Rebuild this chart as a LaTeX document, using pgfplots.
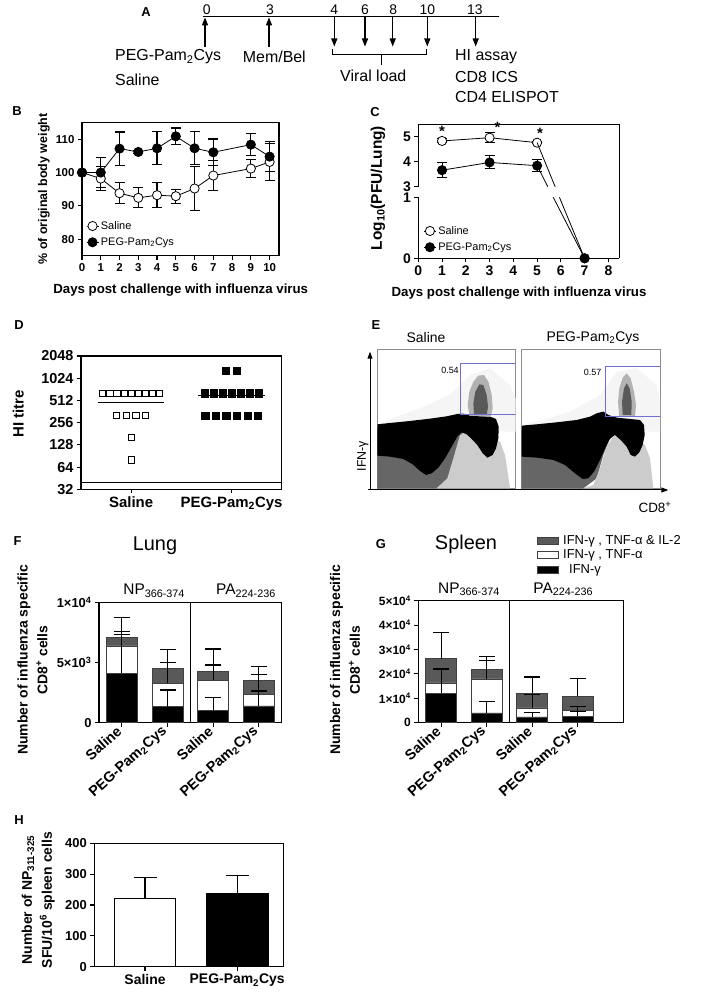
\documentclass[border=0pt]{standalone}
\usepackage{fontspec}
\setmainfont{Liberation Sans}
\usepackage{pgfplots}
\pgfplotsset{compat=1.18}
\usetikzlibrary{arrows.meta}
\newcommand{\fs}[1]{\fontsize{#1}{#1}\selectfont}
\newcommand{\peg}{PEG-Pam\textsubscript{2}Cys}
\definecolor{gate}{RGB}{110,110,212}
\pgfkeys{/pgf/number format/assume math mode=true}
\pgfplotsset{
  every axis/.append style={scale only axis, anchor=south west, axis line style={line width=1.1bp}, tick style={line width=1.1bp, black}, major tick length=4bp, tick align=outside, tick pos=left, scaled ticks=false},
  errb/.style={error bars/y dir=both, error bars/y explicit, error bars/error bar style={line width=1.1bp, solid, black}, error bars/error mark options={rotate=90, mark size=5bp, line width=1.1bp, black}},
  cst/.style={black, line width=0.8bp, mark=*, mark size=4.6bp, mark options={line width=1.1bp, solid}},
  bseg/.style={ybar, bar width=31bp, bar shift=0pt, draw=black!75, line width=0.6bp, forget plot, error bars/y dir=plus, error bars/y explicit, error bars/error bar style={line width=1.1bp, black}, error bars/error mark options={rotate=90, mark size=8bp, line width=1.1bp, black}},
  flow/.style={xtick=\empty, ytick=\empty, y dir=reverse, ymin=12, ymax=430, axis line style={black!45, line width=0.7bp}, clip=true},
  lgimg/.style={legend image code/.code={\draw[mark repeat=2,mark phase=2,##1] plot coordinates {(0bp,0bp) (6bp,0bp) (12bp,0bp)};}},
}
\begin{document}
\begin{tikzpicture}
\path[use as bounding box] (0,0) rectangle (708bp,994bp);

% ================= A : timeline =================
\begin{scope}[x=1bp,y=1bp]
\node[font=\bfseries\fs{13}] at (146,982.3) {A};
\draw[line width=1.5bp] (203.3,977.3) -- (499.3,977.3);
\foreach \xx/\lab in {206.7/0,270/3,334.3/4,365/6,393.3/8,427.3/10,475/13}
  \node[font=\fs{14}] at (\xx,984) {\lab};
\foreach \xx in {205,269}
  \draw[line width=1.3bp,-{Triangle[length=8bp,width=6bp]}] (\xx,947.3) -- (\xx,976.6);
\foreach \xx in {334.3,365,392.7,427.3,475.7}
  \draw[line width=1.3bp,-{Triangle[length=8bp,width=6bp]}] (\xx,976.6) -- (\xx,947.5);
\draw[line width=0.9bp] (332.3,944.7) -- (332.3,940) -- (426.7,940) -- (426.7,944.7);
\draw[line width=0.9bp] (381.7,940) -- (381.7,929);
\node[font=\fs{16}, anchor=west, inner sep=0] at (115,937) {\peg};
\node[font=\fs{16}, anchor=west, inner sep=0] at (115,914) {Saline};
\node[font=\fs{16}, anchor=west, inner sep=0] at (242.7,937) {Mem/Bel};
\node[font=\fs{16}] at (373.3,918) {Viral load};
\node[font=\fs{16}, anchor=west, inner sep=0] at (455,937) {HI assay};
\node[font=\fs{16}, anchor=west, inner sep=0] at (455,916.7) {CD8 ICS};
\node[font=\fs{16}, anchor=west, inner sep=0] at (455,896.7) {CD4 ELISPOT};

% panel letters and labels
\node[font=\bfseries\fs{13}] at (17,883) {B};
\node[font=\bfseries\fs{13}] at (375,882) {C};
\node[font=\bfseries\fs{13}] at (19,669) {D};
\node[font=\bfseries\fs{13}] at (376,669) {E};
\node[font=\bfseries\fs{13}] at (17.5,453) {F};
\node[font=\bfseries\fs{13}] at (381,450) {G};
\node[font=\bfseries\fs{13}] at (19,174) {H};

\node[font=\bfseries\fs{12.5}, rotate=90] at (44,805) {\% of original body weight};
\node[font=\bfseries\fs{13.3}] at (180.7,704) {Days post challenge with influenza virus};
\node[font=\bfseries\fs{15.5}, rotate=90] at (378,806) {Log\textsubscript{10}(PFU/Lung)};
\node[font=\bfseries\fs{13.3}] at (519,701.3) {Days post challenge with influenza virus};
\node[font=\bfseries\fs{15}, rotate=90] at (18.3,580) {HI titre};

\node[font=\fs{14}] at (426,656) {Saline};
\node[font=\fs{14}] at (593,656) {\peg};
\node[font=\fs{12.5}, rotate=90] at (363,538) {IFN-γ};
\node[font=\fs{13.5}] at (655,487) {CD8\textsuperscript{+}};
\draw[line width=1bp,-{Triangle[length=7bp,width=5bp]}] (370,504) -- (370,642.3);
\draw[line width=1bp,-{Triangle[length=7bp,width=5bp]}] (368.3,504) -- (668.3,504);

\node[font=\fs{20}, anchor=base] at (155,443.3) {Lung};
\node[font=\fs{15.5}, anchor=base] at (154.2,399) {NP\textsubscript{366-374}};
\node[font=\fs{15.5}, anchor=base] at (246,399) {PA\textsubscript{224-236}};
\node[font=\bfseries\fontsize{14}{20}\selectfont, rotate=90, align=center] at (32.5,334) {Number of influenza specific\\CD8\textsuperscript{+} cells};

\node[font=\fs{20}, anchor=base] at (466,444) {Spleen};
\node[font=\fs{15.5}, anchor=base] at (469,400.7) {NP\textsubscript{366-374}};
\node[font=\fs{15.5}, anchor=base] at (563.3,400.7) {PA\textsubscript{224-236}};
\node[font=\bfseries\fontsize{14}{20}\selectfont, rotate=90, align=center] at (345,334) {Number of influenza specific\\CD8\textsuperscript{+} cells};

\node[font=\bfseries\fontsize{14}{20}\selectfont, rotate=90, align=center] at (38.3,94) {Number of NP\textsubscript{311-325}\\SFU/10\textsuperscript{6} spleen cells};
\end{scope}

% ================= B =================
\begin{axis}[at={(82bp,738.3bp)}, width=197bp, height=133bp,
  xmin=0, xmax=10.5, ymin=75, ymax=115, xtick={0,1,...,10}, ytick={80,90,100,110},
  tick label style={font=\bfseries\fs{11.5}}, lgimg,
  legend style={at={(0.02,0.05)}, anchor=south west, draw=none, fill=none, font=\fs{11}, inner sep=0pt, row sep=3bp, legend cell align=left}]
\addplot[cst, mark options={fill=white}, errb] coordinates {
 (0,100) +- (0,0) (1,98.2) +- (0,3.5) (2,93.8) +- (0,3.2) (3,92.4) +- (0,3)
 (4,93.2) +- (0,3.8) (5,92.9) +- (0,2.1) (6,95.2) +- (0,6.7) (7,99.1) +- (0,4.5)
 (9,101.2) +- (0,2.6) (10,103.2) +- (0,5.5)};
\addplot[cst, mark options={fill=black}, errb] coordinates {
 (0,100) +- (0,0) (1,100) +- (0,4.4) (2,107.2) +- (0,5) (3,106.2) +- (0,0.5)
 (4,107.3) +- (0,5) (5,110.9) +- (0,2.5) (6,107.3) +- (0,5) (7,106.1) +- (0,4)
 (9,108.4) +- (0,3.3) (10,104.8) +- (0,4.5)};
\legend{Saline, \peg}
\end{axis}

% ================= C (broken axis) =================
\begin{axis}[at={(418.3bp,735.7bp)}, width=201bp, height=134.1bp,
  xmin=0, xmax=1, ymin=0, ymax=1, hide x axis, axis y line*=right, ytick=\empty]
\end{axis}
\begin{axis}[at={(418.3bp,807.3bp)}, width=201bp, height=62.5bp,
  xmin=0, xmax=8.46, ymin=3, ymax=5.5, axis x line*=top, axis y line*=left,
  xtick=\empty, ytick={3,4,5}, tick align=outside, tick label style={font=\bfseries\fs{14}}, clip mode=individual]
\addplot[cst, mark options={fill=white}, errb] coordinates {
 (1,4.83) +- (0,0.08) (3,4.96) +- (0,0.2) (5,4.76) +- (0,0.05)};
\addplot[black, line width=0.8bp] coordinates {(5,4.76) (5.76,3)};
\addplot[cst, mark options={fill=black}, errb] coordinates {
 (1,3.66) +- (0,0.3) (3,3.97) +- (0,0.26) (5,3.84) +- (0,0.24)};
\addplot[black, line width=0.8bp] coordinates {(5,3.84) (5.45,3)};
\node[font=\bfseries\fs{15}] at (axis cs:1,5.2) {*};
\node[font=\bfseries\fs{15}] at (axis cs:3.33,5.36) {*};
\node[font=\bfseries\fs{15}] at (axis cs:5.12,5.14) {*};
\end{axis}
\begin{axis}[at={(418.3bp,735.7bp)}, width=201bp, height=61bp,
  xmin=0, xmax=8.46, ymin=0, ymax=1, axis x line*=bottom, axis y line*=left,
  xtick={0,1,...,8}, ytick={0,1}, tick align=outside, tick label style={font=\bfseries\fs{14}},
  legend style={at={(0.025,0.07)}, anchor=south west, draw=none, fill=none, font=\fs{11}, inner sep=0pt, row sep=3bp, legend cell align=left}, lgimg]
\addlegendimage{cst, mark options={fill=white}}
\addlegendimage{cst, mark options={fill=black}}
\addplot[black, line width=0.8bp, forget plot] coordinates {(5.94,1) (7,0)};
\addplot[black, line width=0.8bp, forget plot] coordinates {(5.68,1) (7,0)};
\addplot[cst, only marks, mark options={fill=white}, forget plot] coordinates {(7,0)};
\addplot[cst, only marks, mark options={fill=black}, forget plot] coordinates {(7,0)};
\legend{Saline, \peg}
\end{axis}

% ================= D =================
\begin{axis}[at={(81bp,504.7bp)}, width=200.7bp, height=133.3bp,
  xmin=0.5, xmax=2.5, ymode=log, log basis y=2, ymin=32, ymax=2048,
  ytick={32,64,128,256,512,1024,2048}, yticklabels={32,64,128,256,512,1024,2048},
  xtick={1,2}, xticklabels={Saline,\peg},
  yticklabel style={font=\bfseries\fs{14.5}}, xticklabel style={font=\bfseries\fs{15}}]
\addplot[black, line width=1.1bp] coordinates {(0.5,40) (2.5,40)};
\addplot[only marks, mark=square, mark size=3.1bp, mark options={line width=0.9bp, fill=white}] coordinates {
 (0.717,640) (0.788,640) (0.858,640) (0.929,640) (1.0,640) (1.071,640) (1.142,640) (1.212,640) (1.283,640)
 (0.855,320) (0.952,320) (1.048,320) (1.145,320) (1.0,160) (1.0,80)};
\addplot[black, line width=1.1bp] coordinates {(0.67,485) (1.33,485)};
\addplot[only marks, mark=square*, mark size=3.6bp, mark options={line width=0.5bp}] coordinates {
 (1.945,1280) (2.05,1280)
 (1.731,640) (1.821,640) (1.910,640) (2.0,640) (2.090,640) (2.179,640) (2.269,640)
 (1.738,320) (1.843,320) (1.948,320) (2.053,320) (2.158,320) (2.262,320)};
\addplot[black, line width=1.1bp] coordinates {(1.67,597) (2.33,597)};
\end{axis}

% ================= E (flow plots) =================
\begin{axis}[at={(377.3bp,505.7bp)}, width=138.4bp, height=139.3bp, xmin=22, xmax=437, flow]
\addplot[fill=black!4, draw=none] coordinates {(22,240) (80,215) (150,190) (240,150) (300,90) (360,70) (420,120) (437,160) (437,260) (22,260)};
\addplot[fill=black!60, draw=none] coordinates {(22,300) (22,430) (200,430) (235,400) (250,350) (265,290) (280,262) (200,250) (22,250)};
\addplot[fill=black!20, draw=none] coordinates {(200,430) (420,430) (405,330) (390,290) (340,270) (290,262) (270,270) (250,340) (232,400)};
\addplot[fill=black, draw=none] coordinates {(22,238) (60,234) (120,228) (180,221) (230,214) (262,207) (280,206) (300,212) (330,214) (360,215) (378,222) (386,245) (385,280) (378,310) (368,330) (352,338) (338,325) (322,300) (305,282) (290,268) (275,262) (262,275) (245,305) (225,340) (205,368) (185,385) (168,390) (150,378) (128,358) (100,342) (60,335) (22,332)};
\addplot[fill=black!30, draw=none] coordinates {(298,212) (293,180) (298,140) (310,110) (325,92) (342,90) (355,110) (365,150) (368,190) (362,215)};
\addplot[fill=black!65, draw=none] coordinates {(312,208) (310,175) (316,140) (328,118) (340,120) (350,150) (354,185) (350,210)};
\addplot[gate, line width=0.8bp] coordinates {(437,55) (272,55) (272,207) (437,207)};
\node[font=\fs{9}] at (axis cs:240,75) {0.54};
\end{axis}
\begin{axis}[at={(521.7bp,505.7bp)}, width=138.3bp, height=139.3bp, xmin=455, xmax=870, flow]
\addplot[fill=black!4, draw=none] coordinates {(455,240) (520,225) (600,200) (690,150) (740,80) (800,70) (860,120) (870,160) (870,260) (455,260)};
\addplot[fill=black!60, draw=none] coordinates {(455,300) (455,430) (640,430) (680,400) (700,330) (718,285) (735,268) (640,250) (455,250)};
\addplot[fill=black!20, draw=none] coordinates {(640,430) (850,430) (840,340) (825,300) (780,280) (735,268) (712,300) (690,370) (670,420)};
\addplot[fill=black, draw=none] coordinates {(455,242) (500,238) (560,232) (620,225) (660,215) (680,205) (700,200) (715,210) (740,218) (780,222) (810,225) (822,240) (824,270) (818,300) (808,322) (795,335) (782,330) (770,305) (752,285) (735,270) (720,280) (705,310) (690,345) (672,380) (655,400) (638,402) (615,385) (585,360) (550,345) (500,338) (455,335)};
\addplot[fill=black!30, draw=none] coordinates {(748,215) (744,170) (748,130) (758,98) (770,85) (782,100) (792,140) (798,180) (795,215)};
\addplot[fill=black!65, draw=none] coordinates {(758,210) (756,170) (762,130) (770,115) (779,130) (785,170) (784,210)};
\addplot[gate, line width=0.8bp] coordinates {(870,65) (705,65) (705,215) (870,215)};
\node[font=\fs{9}] at (axis cs:668,82) {0.57};
\end{axis}

% ================= F =================
\begin{axis}[at={(99bp,271.3bp)}, width=182.7bp, height=120bp,
  xmin=-0.5, xmax=3.5, ymin=0, ymax=10000,
  ytick={0,5000,10000}, yticklabels={0,5×10\textsuperscript{3},1×10\textsuperscript{4}},
  xtick={0,1,2,3}, xticklabels={Saline,\peg,Saline,\peg},
  yticklabel style={font=\bfseries\fs{13}},
  xticklabel style={font=\bfseries\fs{14.5}, rotate=42, anchor=east}]
\addplot[bseg, fill=black!65] coordinates {(0,7117) +- (0,1633) (1,4533) +- (0,1584) (2,4250) +- (0,1892) (3,3558) +- (0,1109)};
\addplot[bseg, fill=white] coordinates {(0,6392) +- (0,975) (1,3283) +- (0,1717) (2,3558) +- (0,1250) (3,2367) +- (0,1666)};
\addplot[bseg, fill=black] coordinates {(0,4117) +- (0,3466) (1,1333) +- (0,1392) (2,1058) +- (0,1025) (3,1392) +- (0,1250)};
\addplot[black, line width=1.1bp, forget plot] coordinates {(1.5,0) (1.5,10000)};
\end{axis}

% ================= G =================
\begin{axis}[at={(418.3bp,271.3bp)}, width=205bp, height=122bp,
  xmin=-0.5, xmax=4, ymin=0, ymax=50000,
  ytick={0,10000,20000,30000,40000,50000},
  yticklabels={0,1×10\textsuperscript{4},2×10\textsuperscript{4},3×10\textsuperscript{4},4×10\textsuperscript{4},5×10\textsuperscript{4}},
  xtick={0,1,2,3}, xticklabels={Saline,\peg,Saline,\peg},
  yticklabel style={font=\bfseries\fs{12}},
  xticklabel style={font=\bfseries\fs{14.5}, rotate=42, anchor=east},
  legend style={at={(0.578,1.555)}, anchor=north west, draw=none, fill=none, font=\fs{13}, inner sep=0pt, row sep=0bp, column sep=3bp, legend cell align=left}]
\addplot[bseg, fill=black!65] coordinates {(0,26230) +- (0,10820) (1,21720) +- (0,5490) (2,12170) +- (0,6560) (3,10820) +- (0,7380)};
\addplot[bseg, fill=white] coordinates {(0,16270) +- (0,5730) (1,17910) +- (0,7660) (2,6025) +- (0,5455) (3,4920) +- (0,1800)};
\addplot[bseg, fill=black] coordinates {(0,12170) +- (0,9830) (1,3975) +- (0,4795) (2,2340) +- (0,1920) (3,2620) +- (0,2080)};
\addplot[black, line width=1.1bp, forget plot] coordinates {(1.5,0) (1.5,50000)};
\addlegendimage{legend image code/.code={\draw[draw=black!75, fill=black!65, line width=0.6bp] (0bp,-3.5bp) rectangle (20.6bp,3.5bp);}}
\addlegendentry{IFN-γ , TNF-α \& IL-2}
\addlegendimage{legend image code/.code={\draw[draw=black!75, fill=white, line width=0.6bp] (0bp,-3.5bp) rectangle (20.6bp,3.5bp);}}
\addlegendentry{IFN-γ , TNF-α}
\addlegendimage{legend image code/.code={\draw[draw=black!75, fill=black, line width=0.6bp] (0bp,-3.5bp) rectangle (20.6bp,3.5bp);}}
\addlegendentry{\hspace{6bp}IFN-γ}
\end{axis}

% ================= H =================
\begin{axis}[at={(94.3bp,27.3bp)}, width=189bp, height=123.4bp,
  xmin=0.45, xmax=2.5, ymin=0, ymax=400, ytick={0,100,200,300,400},
  xtick={1,2}, xticklabels={Saline,\peg},
  yticklabel style={font=\bfseries\fs{13}}, xticklabel style={font=\bfseries\fs{14}}]
\addplot[ybar, bar width=61.7bp, bar shift=0pt, fill=white, draw=black, line width=1.1bp,
  error bars/y dir=plus, error bars/y explicit, error bars/error bar style={line width=1.1bp},
  error bars/error mark options={rotate=90, mark size=11.5bp, line width=1.1bp}] coordinates {(1,220) +- (0,70)};
\addplot[ybar, bar width=61.7bp, bar shift=0pt, fill=black, draw=black, line width=1.1bp,
  error bars/y dir=plus, error bars/y explicit, error bars/error bar style={line width=1.1bp},
  error bars/error mark options={rotate=90, mark size=11.5bp, line width=1.1bp}] coordinates {(2,236) +- (0,61)};
\end{axis}
\end{tikzpicture}
\end{document}
